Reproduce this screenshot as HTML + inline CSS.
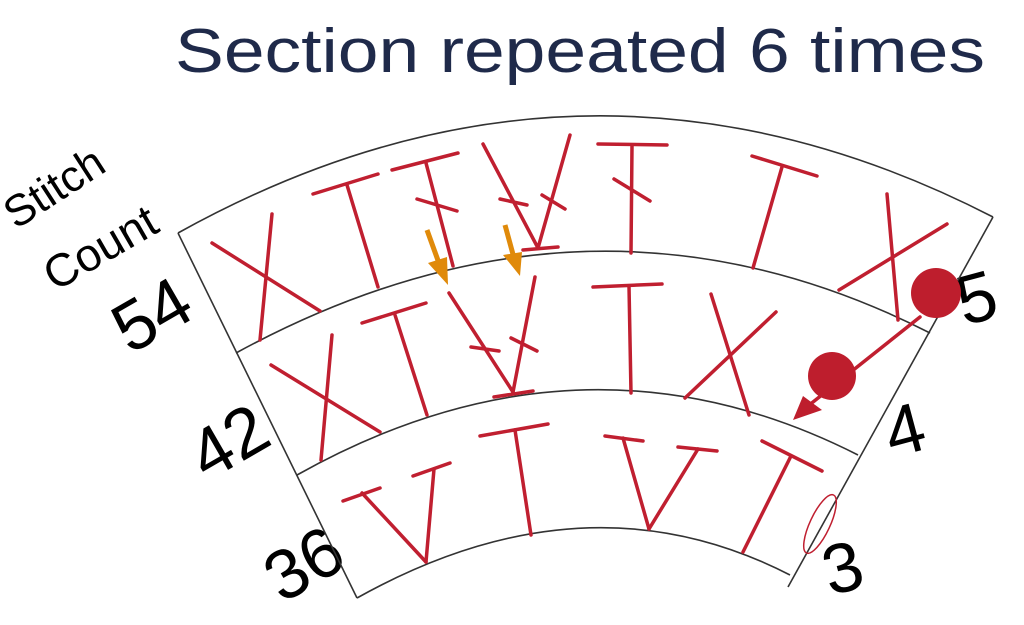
<!DOCTYPE html>
<html><head><meta charset="utf-8"><style>
html,body{margin:0;padding:0;background:#fff;}
svg{display:block;}
text{font-family:"Liberation Sans",sans-serif;}
</style></head><body>
<svg width="1024" height="625" viewBox="0 0 1024 625" xmlns="http://www.w3.org/2000/svg">
<text x="175" y="72" font-size="62" fill="#1f2a4a" textLength="810" lengthAdjust="spacingAndGlyphs">Section repeated 6 times</text>
<text transform="translate(16,230) rotate(-33)" font-size="44" fill="#000">Stitch</text>
<text transform="translate(55,292) rotate(-30)" font-size="46" fill="#000">Count</text>
<text transform="translate(130,355) rotate(-30)" font-size="70" fill="#000">54</text>
<text transform="translate(207,482) rotate(-30)" font-size="70" fill="#000">42</text>
<text transform="translate(282,604) rotate(-30)" font-size="70" fill="#000">36</text>
<text transform="translate(964,326) rotate(-15)" font-size="70" fill="#000">5</text>
<text transform="translate(892,458) rotate(-15)" font-size="70" fill="#000">4</text>
<text transform="translate(830,596) rotate(-15)" font-size="70" fill="#000">3</text>

<g fill="none" stroke="#333" stroke-width="1.6">
<path d="M178,233 Q585,7 993,217"/>
<path d="M236,353 Q590,160 930,333"/>
<path d="M297,475 Q582,315 858,455"/>
<path d="M357,598 Q586,470 790,575"/>
<path d="M178,233 L357,598"/>
<path d="M993,217 L788,587"/>
</g>

<g stroke="#c01f30" stroke-width="3.5" stroke-linecap="round" fill="none">
<!-- row 1 -->
<line x1="212" y1="243" x2="320" y2="311"/><line x1="272" y1="214" x2="260" y2="340"/>
<line x1="313" y1="194" x2="378" y2="174"/><line x1="347" y1="185" x2="378" y2="287"/>
<line x1="392" y1="170" x2="458" y2="153"/><line x1="426" y1="163" x2="453" y2="266"/><line x1="417" y1="199" x2="457" y2="211"/>
<line x1="483" y1="144" x2="538" y2="248"/><line x1="570" y1="135" x2="538" y2="248"/><line x1="523" y1="250" x2="558" y2="247"/>
<line x1="500" y1="199" x2="527" y2="205"/><line x1="542" y1="195" x2="565" y2="209"/>
<line x1="598" y1="144" x2="667" y2="145"/><line x1="632" y1="146" x2="631" y2="253"/><line x1="614" y1="179" x2="650" y2="201"/>
<line x1="752" y1="156" x2="817" y2="176"/><line x1="782" y1="167" x2="753" y2="268"/>
<line x1="887" y1="194" x2="898" y2="320"/><line x1="947" y1="224" x2="839" y2="290"/>
<!-- row 2 -->
<line x1="271" y1="365" x2="380" y2="432"/><line x1="332" y1="335" x2="321" y2="460"/>
<line x1="362" y1="323" x2="426" y2="303"/><line x1="395" y1="315" x2="427" y2="415"/>
<line x1="449" y1="293" x2="513" y2="392"/><line x1="535" y1="277" x2="513" y2="392"/><line x1="494" y1="397" x2="533" y2="391"/>
<line x1="471" y1="347" x2="499" y2="351"/><line x1="511" y1="338" x2="537" y2="351"/>
<line x1="593" y1="287" x2="662" y2="284"/><line x1="629" y1="286" x2="631" y2="393"/>
<line x1="711" y1="294" x2="749" y2="415"/><line x1="776" y1="312" x2="685" y2="398"/>
<!-- row 3 -->
<line x1="343" y1="501" x2="380" y2="488"/><line x1="413" y1="476" x2="450" y2="463"/>
<line x1="362" y1="493" x2="426" y2="562"/><line x1="434" y1="469" x2="426" y2="562"/>
<line x1="480" y1="436" x2="548" y2="424"/><line x1="515" y1="430" x2="531" y2="535"/>
<line x1="605" y1="436" x2="643" y2="441"/><line x1="678" y1="447" x2="717" y2="451"/>
<line x1="623" y1="438" x2="649" y2="529"/><line x1="698" y1="449" x2="649" y2="529"/>
<line x1="762" y1="441" x2="822" y2="471"/><line x1="791" y1="456" x2="743" y2="552"/>
<!-- arrow between dots -->
<line x1="920" y1="317" x2="808" y2="406"/>
</g>
<circle cx="936" cy="293" r="25" fill="#be1e2d"/>
<circle cx="832" cy="376" r="24" fill="#be1e2d"/>
<polygon points="793,420 803,396 822,410" fill="#be1e2d"/>
<ellipse cx="820" cy="524" rx="10" ry="32" transform="rotate(25 820 524)" fill="none" stroke="#c01f30" stroke-width="1.5"/>

<g stroke="#e08a0a" stroke-width="5" fill="#e08a0a">
<line x1="427" y1="230" x2="440" y2="266"/>
<polygon points="448,285 428,263 447,257" stroke="none"/>
<line x1="505" y1="225" x2="514" y2="258"/>
<polygon points="520,276 503,255 522,252" stroke="none"/>
</g>
</svg>
</body></html>
